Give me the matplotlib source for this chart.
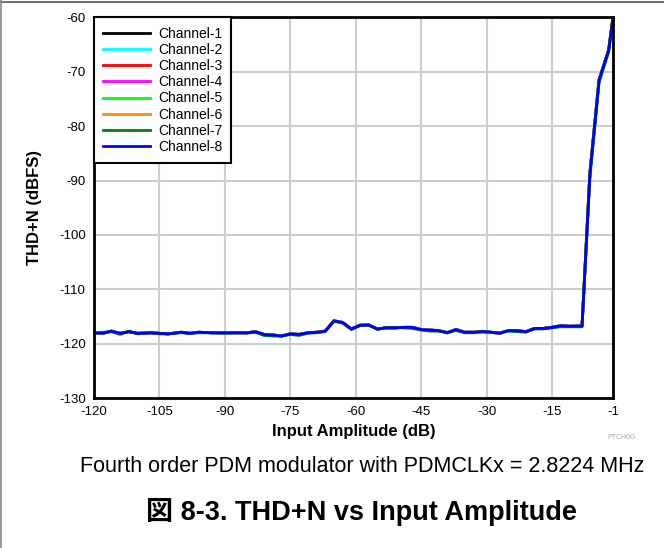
import matplotlib.pyplot as plt
from matplotlib.lines import Line2D

plt.rcParams['font.family'] = ['Liberation Sans', 'Noto Sans CJK JP', 'DejaVu Sans']
plt.rcParams['axes.unicode_minus'] = False

# Input amplitude sweep (dB)
input_db = [-120, -118, -116, -114, -112, -110, -107, -105, -103, -100,
            -98, -96, -93, -90, -87, -85, -83, -81, -79, -77,
            -75, -73, -71, -69, -67, -65, -63, -61, -59, -57,
            -55, -53, -51, -49, -47, -45, -43, -41, -39, -37,
            -35, -33, -31, -29, -27, -25, -23, -21, -19, -17,
            -15, -13, -11, -8.1, -6.3, -4.2, -2.0, -1.0]

# THD+N (dBFS), channels 1-6 and 8 sit on top of each other
thdn_common = [-118.0, -118.1, -117.7, -118.1, -117.8, -118.1, -118.0, -118.1, -118.2, -117.9,
               -118.1, -117.9, -118.0, -118.0, -118.0, -118.0, -117.8, -118.3, -118.4, -118.6,
               -118.2, -118.3, -118.0, -117.9, -117.7, -115.8, -116.1, -117.3, -116.6, -116.6,
               -117.3, -117.1, -117.1, -117.0, -117.0, -117.4, -117.5, -117.6, -118.0, -117.4,
               -117.9, -117.9, -117.8, -117.9, -118.1, -117.6, -117.6, -117.8, -117.2, -117.2,
               -117.0, -116.7, -116.8, -116.75, -88.7, -71.5, -66.0, -60.0]

# channel 7 runs a touch lower in a few spots
thdn_ch7 = [-118.1, -117.9, -117.8, -118.3, -117.7, -118.2, -118.0, -118.2, -118.2, -118.0,
            -118.1, -118.0, -118.0, -118.1, -118.0, -118.1, -117.9, -118.5, -118.6, -118.6,
            -118.3, -118.5, -118.1, -118.0, -117.8, -115.9, -116.2, -117.4, -116.7, -116.5,
            -117.4, -117.0, -117.0, -117.1, -117.2, -117.5, -117.7, -117.7, -117.9, -117.6,
            -118.0, -118.0, -117.7, -117.9, -118.0, -117.7, -117.8, -117.9, -117.3, -117.3,
            -117.1, -116.9, -116.9, -116.9, -89.5, -72.0, -66.3, -60.0]

channels = ['Channel-1', 'Channel-2', 'Channel-3', 'Channel-4',
            'Channel-5', 'Channel-6', 'Channel-7', 'Channel-8']
colors = ['black', 'cyan', 'red', 'magenta', 'lime', 'darkorange', 'green', 'blue']

x_ticks = [-120, -105, -90, -75, -60, -45, -30, -15, -1]

fig = plt.figure(figsize=(6.64, 5.48), dpi=100)
ax = fig.add_axes([0.1416, 0.2737, 0.7816, 0.6944])

for name, color in zip(channels, colors):
    y = thdn_ch7 if name == 'Channel-7' else thdn_common
    ax.plot(input_db, y, color=color, lw=2, label=name)

ax.set_xlim(-120, -1)
ax.set_ylim(-130, -60)
ax.set_xticks(x_ticks)
ax.set_yticks(range(-130, -59, 10))
ax.tick_params(length=0, labelsize=9.5, pad=6)
ax.grid(True, color='#cccccc', lw=1.5)
ax.set_axisbelow(True)
for s in ax.spines.values():
    s.set_linewidth(2)

ax.set_xlabel('Input Amplitude (dB)', fontsize=12, fontweight='bold', labelpad=4)
ax.set_ylabel('THD+N (dBFS)', fontsize=12, fontweight='bold', labelpad=12)

leg = ax.legend(loc='upper left', fontsize=10, handlelength=3.4, labelspacing=0.16,
                borderaxespad=0, fancybox=False, framealpha=1, edgecolor='black',
                borderpad=0.65, handletextpad=0.55)
leg.get_frame().set_linewidth(1.5)

fig.text(0.958, 0.202, 'PTCH0G', fontsize=5, color='#aaaaaa', ha='right', va='center')
fig.text(0.545, 0.148, 'Fourth order PDM modulator with PDMCLKx = 2.8224 MHz',
         fontsize=15.5, ha='center', va='center')
fig.text(0.545, 0.066, '図 8-3. THD+N vs Input Amplitude',
         fontsize=19.5, fontweight='bold', ha='center', va='center')

# thin page frame on the top and left edges
fig.add_artist(Line2D([0, 1], [0.997, 0.997], color='#555555', lw=1.2))
fig.add_artist(Line2D([0.0015, 0.0015], [0, 1], color='#888888', lw=1.2))

fig.savefig('out.png', dpi=100)
